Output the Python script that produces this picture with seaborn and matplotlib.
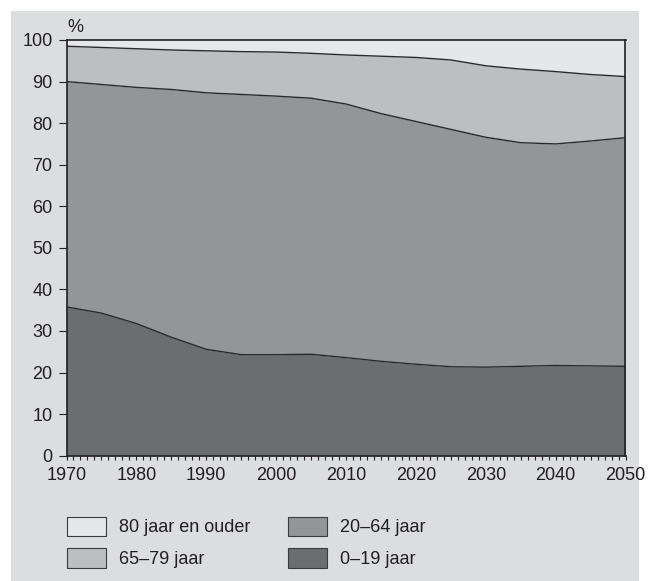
import numpy as np
import pandas as pd
import seaborn as sns
import matplotlib
matplotlib.use("Agg")
import matplotlib.pyplot as plt
from matplotlib.patches import Rectangle, Patch
from matplotlib.ticker import MultipleLocator

# ---- data (percent share of population per age group) ----
years = [1970, 1975, 1980, 1985, 1990, 1995, 2000, 2005, 2010,
         2015, 2020, 2025, 2030, 2035, 2040, 2045, 2050]
age_0_19 = [35.8, 34.3, 31.8, 28.5, 25.6, 24.3, 24.3, 24.4, 23.6,
            22.7, 22.0, 21.4, 21.3, 21.5, 21.7, 21.6, 21.5]
age_20_64 = [54.2, 55.0, 56.8, 59.6, 61.7, 62.6, 62.2, 61.6, 61.0,
             59.6, 58.4, 57.1, 55.3, 53.8, 53.3, 54.1, 55.0]
age_65_79 = [8.5, 8.9, 9.3, 9.5, 10.1, 10.3, 10.6, 10.8, 11.8,
             13.8, 15.4, 16.7, 17.2, 17.7, 17.4, 16.0, 14.7]
age_80_plus = [1.5, 1.8, 2.1, 2.4, 2.6, 2.8, 2.9, 3.2, 3.6,
               3.9, 4.2, 4.8, 6.2, 7.0, 7.6, 8.3, 8.8]

series_labels = ["0–19 jaar", "20–64 jaar", "65–79 jaar", "80 jaar en ouder"]
series_colors = ["#6c6d71", "#939598", "#bdbec2", "#e6e7e9"]
x_ticks = [1970, 1980, 1990, 2000, 2010, 2020, 2030, 2040, 2050]
y_ticks = [0, 10, 20, 30, 40, 50, 60, 70, 80, 90, 100]

sns.set_theme(style="white")
plt.rcParams["font.family"] = ["Liberation Sans", "DejaVu Sans"]

W, H = 648, 581
FS = 13
fig = plt.figure(figsize=(W / 100, H / 100), dpi=100, facecolor="white")
fig.patches.append(Rectangle((11 / W, 0), (639 - 11) / W, (H - 11) / H,
                             transform=fig.transFigure, facecolor="#dcdddf",
                             edgecolor="none", zorder=-10))

left, right, top, bottom = 66.5, 625.5, 40, 455.7
ax = fig.add_axes([left / W, 1 - bottom / H, (right - left) / W, (bottom - top) / H])

series = [age_0_19, age_20_64, age_65_79, age_80_plus]
stack = np.cumsum(np.array(series, dtype=float), axis=0)
lower = np.vstack([np.zeros(len(years)), stack[:-1]])

for lo, hi, c in zip(lower, stack, series_colors):
    ax.fill_between(years, lo, hi, color=c, linewidth=0)

# boundary lines via seaborn
df = pd.DataFrame({"year": np.tile(years, 3),
                   "value": np.concatenate(stack[:3]),
                   "boundary": np.repeat(["b0", "b1", "b2"], len(years))})
sns.lineplot(data=df, x="year", y="value", units="boundary", estimator=None,
             color="#2a2a2c", linewidth=1.0, ax=ax, legend=False)

ax.set_xlim(1970, 2050)
ax.set_ylim(0, 100)
ax.set_xticks(x_ticks)
ax.xaxis.set_minor_locator(MultipleLocator(1))
ax.set_yticks(y_ticks)
ax.set_xlabel("")
ax.set_ylabel("")
for s in ax.spines.values():
    s.set_color("#231f20")
    s.set_linewidth(1.2)
ax.tick_params(axis="x", which="both", direction="out", length=3, width=0.8,
               color="#231f20", labelsize=FS, pad=5, labelcolor="#231f20", bottom=True)
ax.tick_params(axis="y", which="major", direction="out", length=6, width=0.8,
               color="#231f20", labelsize=FS, pad=4, labelcolor="#231f20", left=True)

fig.text(67 / W, 1 - 27.5 / H, "%", fontsize=FS, color="#231f20", va="center", ha="left")

handles = [Patch(facecolor=series_colors[i], edgecolor="#3a3a3c", linewidth=0.8,
                 label=series_labels[i]) for i in [3, 2, 1, 0]]
fig.legend(handles=handles, ncol=2, loc="upper left",
           bbox_to_anchor=(66.5 / W, 1 - 516.5 / H), frameon=False,
           fontsize=FS, handlelength=2.17, handleheight=1.28,
           handletextpad=0.72, labelspacing=0.66, columnspacing=2.1,
           borderpad=0, borderaxespad=0, labelcolor="#231f20")

fig.savefig("out.png", dpi=100, facecolor="white")
